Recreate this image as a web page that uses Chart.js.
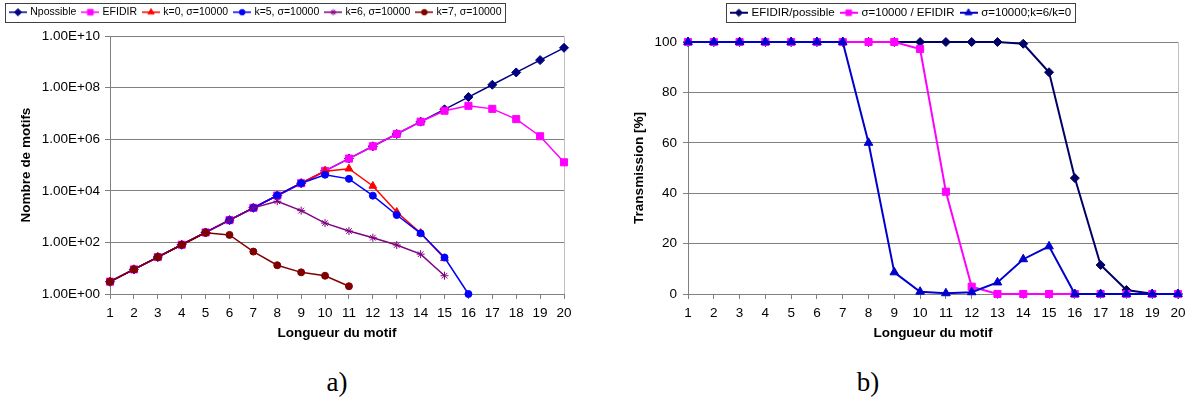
<!DOCTYPE html>
<html lang="fr">
<head>
<meta charset="UTF-8">
<title>Nombre de motifs / Transmission</title>
<script src="https://cdn.jsdelivr.net/npm/chart.js@4"></script>
<style>
body { margin: 0; background: #fff; width: 1192px; height: 403px; position: relative; overflow: hidden; }
canvas { position: absolute; top: 0; }
#chartA { left: 0; }
#chartB { left: 600px; }
.caption { position: absolute; top: 366px; line-height: 32px; font-family: 'Liberation Serif', 'DejaVu Serif', serif; font-size: 27px; transform: translateX(-50%); }
</style>
</head>
<body>
<canvas id="chartA" width="600" height="350"></canvas>
<canvas id="chartB" width="592" height="350"></canvas>
<div class="caption" style="left:337px">a)</div>
<div class="caption" style="left:868px">b)</div>
<script>
// longueur du motif
const lengths = [1, 2, 3, 4, 5, 6, 7, 8, 9, 10, 11, 12, 13, 14, 15, 16, 17, 18, 19, 20];

// a) nombre de motifs (log)
const nPossible = [3, 9, 27, 81, 243, 729, 2187, 6561, 19683, 59049, 177147, 531441, 1594323, 4782969, 14348907, 43046721, 129140163, 387420489, 1162261467, 3486784401];
const efidir = [3, 9, 27, 81, 243, 729, 2187, 6561, 19683, 59049, 177147, 531441, 1594323, 4750000, 12700000, 19700000, 15000000, 6000000, 1300000, 127000];
const k0 = [3, 9, 27, 81, 243, 729, 2187, 6561, 19683, 57400, 72000, 15400, 1500, 230, 24, null, null, null, null, null];
const k5 = [3, 9, 27, 81, 243, 729, 2187, 6561, 19683, 42000, 29000, 6500, 1150, 225, 26, 1, null, null, null, null];
const k6 = [3, 9, 27, 81, 243, 729, 2187, 3940, 1700, 560, 276, 152, 79, 35, 5.1, null, null, null, null, null];
const k7 = [3, 9, 27, 81, 235, 195, 44, 13, 6.9, 5.1, 2, null, null, null, null, null, null, null, null, null];
const logTickExps = [0, 2, 4, 6, 8, 10];

// b) transmission [%]
const ratioPossible = [100, 100, 100, 100, 100, 100, 100, 100, 100, 100, 100, 100, 100, 99.3, 88, 46, 11.5, 1.6, 0.1, 0];
const ratioSigma = [100, 100, 100, 100, 100, 100, 100, 100, 100, 97.2, 40.6, 2.9, 0, 0, 0, 0, 0, 0, 0, 0];
const ratioK = [100, 100, 100, 100, 100, 100, 100, 60, 8.6, 0.9, 0.3, 0.7, 4.6, 13.8, 18.9, 0, 0, 0, 0, 0];

Chart.defaults.font.family = "'Liberation Sans', Arial, sans-serif";
Chart.defaults.color = '#000';

function legendMark(color, style, radius, lineWidth) {
    const c = document.createElement('canvas');
    c.width = 18; c.height = 10;
    const ctx = c.getContext('2d');
    ctx.strokeStyle = color; ctx.fillStyle = color; ctx.lineWidth = lineWidth;
    ctx.beginPath(); ctx.moveTo(0, 5); ctx.lineTo(18, 5); ctx.stroke();
    ctx.lineWidth = 1;
    Chart.helpers.drawPoint(ctx, { pointStyle: style, radius: radius, rotation: 0, borderWidth: 1 }, 9, 5);
    return c;
}

function series(label, data, color, style, radius, width, order) {
    return {
        label: label, data: data, borderColor: color, backgroundColor: color,
        pointBackgroundColor: color, pointBorderColor: color, pointStyle: style,
        pointRadius: radius, pointBorderWidth: 1, borderWidth: width,
        order: order, clip: false, spanGaps: false,
        mark: legendMark(color, style, radius * 0.8, width)
    };
}

// legend height pinned to the plot top, legend box + right edge of the plot area
function framePlugin(legendHeight) {
    return {
        id: 'frame',
        beforeLayout(chart) {
            const lg = chart.legend;
            if (lg && !lg._pinned) {
                const fit = lg.fit;
                lg.fit = function () { fit.call(this); this.height = legendHeight; };
                lg._pinned = true;
            }
        },
        beforeDatasetsDraw(chart) {
            const a = chart.chartArea, ctx = chart.ctx;
            ctx.save();
            ctx.strokeStyle = '#c0c0c0'; ctx.lineWidth = 1;
            ctx.beginPath(); ctx.moveTo(a.right + 0.5, a.top); ctx.lineTo(a.right + 0.5, a.bottom); ctx.stroke();
            ctx.restore();
        },
        afterDraw(chart) {
            const boxes = chart.legend.legendHitBoxes;
            if (!boxes || !boxes.length) return;
            const x0 = Math.min(...boxes.map(b => b.left)) - 6;
            const x1 = Math.max(...boxes.map(b => b.left + b.width)) + 4;
            const y0 = Math.min(...boxes.map(b => b.top)) - 4;
            const ctx = chart.ctx;
            ctx.save();
            ctx.strokeStyle = '#404040'; ctx.lineWidth = 1;
            ctx.strokeRect(Math.round(x0) + 0.5, Math.round(y0) + 0.5, Math.round(x1 - x0), 19);
            ctx.restore();
        }
    };
}

function legendOptions(align, size) {
    return {
        position: 'top', align: align,
        labels: {
            usePointStyle: true, pointStyleWidth: 14, boxHeight: size, padding: 7,
            font: { size: size }, color: '#000',
            generateLabels: chart => Chart.defaults.plugins.legend.labels.generateLabels(chart)
                .map(l => Object.assign(l, { pointStyle: chart.data.datasets[l.datasetIndex].mark })),
            sort: (a, b) => a.datasetIndex - b.datasetIndex
        }
    };
}

function xAxis() {
    return {
        type: 'category', offset: false,
        grid: { drawOnChartArea: false, drawTicks: true, tickLength: 5, color: '#808080' },
        border: { color: '#808080' },
        ticks: { font: { size: 13.5 }, color: '#000', padding: 6, autoSkip: false, maxRotation: 0 },
        title: { display: true, text: 'Longueur du motif', font: { size: 13.5, weight: 'bold' }, color: '#000', padding: { top: 0, bottom: 9 } },
        afterFit: s => { s.height = 56; }
    };
}

new Chart(document.getElementById('chartA'), {
    type: 'line',
    data: {
        labels: lengths,
        datasets: [
            series('Npossible', nPossible, '#000080', 'rectRot', 4.5, 1.5, 6),
            series('EFIDIR', efidir, '#ff00ff', 'rect', 5, 1.5, 5),
            series('k=0, σ=10000', k0, '#ff0000', 'triangle', 4.5, 1.5, 4),
            series('k=5, σ=10000', k5, '#0000ff', 'circle', 3.5, 1.5, 3),
            series('k=6, σ=10000', k6, '#800080', 'star', 4, 1.5, 2),
            series('k=7, σ=10000', k7, '#800000', 'circle', 3.5, 1.5, 1)
        ]
    },
    options: {
        responsive: false, animation: false, events: [],
        layout: { padding: { top: 0, left: 4, right: 36, bottom: 0 } },
        plugins: { legend: legendOptions('start', 10.5), tooltip: { enabled: false } },
        scales: {
            x: xAxis(),
            y: {
                type: 'logarithmic', min: 1, max: 1e10,
                afterBuildTicks: s => { s.ticks = logTickExps.map(e => ({ value: Math.pow(10, e) })); },
                grid: { color: '#808080', tickLength: 5 },
                border: { color: '#808080' },
                ticks: {
                    font: { size: 13.5 }, color: '#000', padding: 5,
                    callback: v => '1.00E+' + String(Math.round(Math.log10(v))).padStart(2, '0')
                },
                title: { display: true, text: 'Nombre de motifs', font: { size: 13.5, weight: 'bold' }, color: '#000', padding: { top: 14 } },
                afterFit: s => { s.width = 106; s.paddingTop = 36; }
            }
        }
    },
    plugins: [framePlugin(36)]
});

new Chart(document.getElementById('chartB'), {
    type: 'line',
    data: {
        labels: lengths,
        datasets: [
            series('EFIDIR/possible', ratioPossible, '#000066', 'rectRot', 4.5, 2, 3),
            series('σ=10000 / EFIDIR', ratioSigma, '#ff00ff', 'rect', 5, 2, 2),
            series('σ=10000;k=6/k=0', ratioK, '#0000cc', 'triangle', 5, 2, 1)
        ]
    },
    options: {
        responsive: false, animation: false, events: [],
        layout: { padding: { top: 0, left: 25, right: 14, bottom: 0 } },
        plugins: { legend: legendOptions('center', 11.5), tooltip: { enabled: false } },
        scales: {
            x: xAxis(),
            y: {
                min: 0, max: 100,
                grid: { color: '#808080', tickLength: 5 },
                border: { color: '#808080' },
                ticks: { stepSize: 20, font: { size: 13.5 }, color: '#000', padding: 6 },
                title: { display: true, text: 'Transmission [%]', font: { size: 13.5, weight: 'bold' }, color: '#000', padding: { top: 6 } },
                afterFit: s => { s.width = 63; s.paddingTop = 42; }
            }
        }
    },
    plugins: [framePlugin(42)]
});
</script>
</body>
</html>
